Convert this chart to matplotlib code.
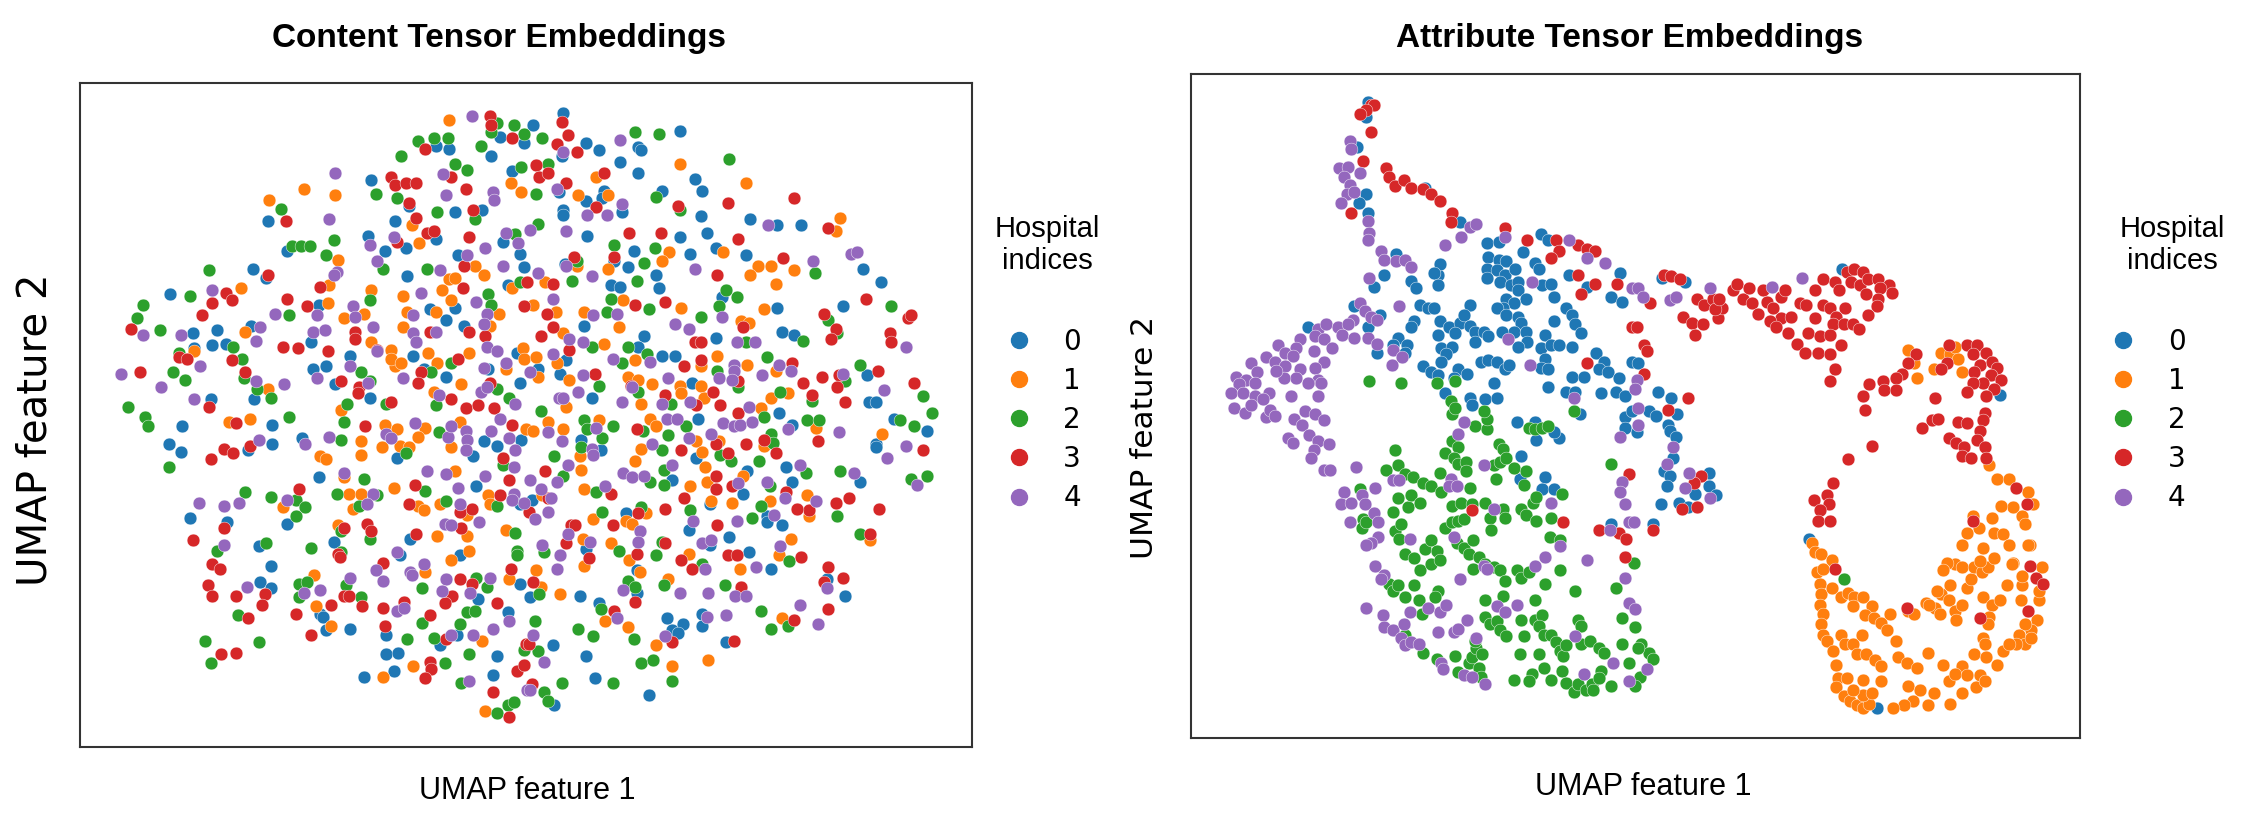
import numpy as np
import matplotlib
matplotlib.use("Agg")
from matplotlib import pyplot as plt
from matplotlib.lines import Line2D

# hospital colours (tab10)
colors = ['#1f77b4', '#ff7f0e', '#2ca02c', '#d62728', '#9467bd']
hospitals = ['0', '1', '2', '3', '4']

# ---- Content tensor embeddings: (UMAP1, UMAP2) per hospital ----
content_0 = [(28.0,40.7),(29.6,40.3),(23.7,40.1),(24.6,39.9),(27.4,39.4),(28.8,38.4),(19.4,37.8),(21.9,36.1),(25.0,35.7),(26.8,35.8),(12.5,35.1),(21.0,35.1),(23.7,33.9),(28.2,33.7),(19.2,34.1),(20.3,33.1),(21.7,33.3),(13.8,33.1),(25.2,32.8),(29.3,32.9),(29.6,32.0),(21.8,31.4),(28.5,30.8),(11.5,31.9),(12.4,31.3),(6.0,30.2),(15.9,29.5),(23.3,29.2),(24.4,28.5),(25.0,29.3),(25.6,28.1),(7.5,27.6),(9.1,27.8),(7.6,26.6),(8.8,26.8),(9.7,26.9),(11.4,28.1),(15.4,27.0),(15.5,25.2),(16.4,25.4),(18.0,26.1),(17.0,24.2),(19.3,23.3),(22.2,26.1),(22.9,25.2),(24.4,24.7),(27.2,25.2),(29.1,26.3),(29.3,24.3),(8.7,23.2),(11.6,23.2),
             (32.2,42.3),(30.2,41.5),(32.1,39.4),(33.7,40.3),(34.6,39.8),(40.0,41.1),(37.2,40.0),(37.4,39.8),(36.0,39.0),(37.2,38.3),(31.9,37.0),(33.7,36.4),(34.9,37.1),(34.8,36.6),(36.1,35.7),(32.2,35.8),(32.2,35.5),(38.8,37.1),(41.0,37.9),(41.5,37.1),(41.4,35.4),(44.7,35.2),(46.5,34.8),(48.1,34.8),(33.8,34.1),(40.0,34.0),(41.8,34.3),(35.6,32.4),(36.9,33.1),(40.7,32.9),(42.4,33.3),(44.4,32.8),(52.2,31.9),(53.4,31.0),(32.3,32.2),(36.5,32.0),(38.4,31.5),(35.4,30.8),(36.0,30.7),(38.6,30.6),(42.8,30.0),(50.9,29.4),(46.5,29.3),(33.6,28.1),(46.8,27.7),(47.6,27.5),(37.6,27.4),(37.2,26.7),(42.4,27.3),(32.4,25.8),(38.8,26.1),(39.7,26.1),(52.5,24.8),(52.6,23.0),(53.1,23.0),(30.5,25.2),(32.0,24.9),(34.1,23.3),(40.8,24.3),(46.6,22.3),
             (6.8,21.4),(12.8,21.5),(5.9,20.2),(6.7,19.7),(11.2,19.8),(12.8,20.2),(14.8,20.6),(21.1,19.3),(26.2,19.4),(26.9,20.4),(27.8,20.1),(29.4,20.5),(15.9,18.0),(26.4,17.4),(13.8,14.9),(29.3,16.2),(7.3,15.3),(9.8,15.0),(11.9,13.4),(12.7,12.1),(16.9,13.7),(22.0,13.9),(12.0,11.0),(12.7,10.6),(21.3,12.8),(25.3,12.8),(26.5,9.9),(29.3,10.9),(16.0,8.9),(16.2,8.7),(28.5,9.0),(16.4,7.8),(18.0,7.9),(20.4,7.5),(24.0,6.8),(25.1,7.5),(20.4,6.2),(21.2,6.3),(27.8,6.1),(18.9,4.7),(20.9,5.1),(27.5,4.8),
             (33.4,20.5),(34.7,19.8),(41.2,21.9),(41.1,19.3),(47.5,21.5),(54.3,21.9),(56.5,21.1),(53.1,20.2),(53.1,20.0),(47.1,18.7),(47.5,17.7),(52.0,17.7),(30.1,16.5),(39.5,17.8),(44.5,18.4),(44.2,16.9),(42.0,16.2),(45.8,15.4),(45.8,15.0),(46.8,14.8),(40.6,14.5),(43.3,14.0),(36.4,15.6),(33.7,13.2),(30.0,10.0),(33.3,10.1),(37.1,11.8),(42.0,13.5),(44.6,13.0),(46.1,11.9),(37.1,10.3),(49.8,11.2),(51.0,10.1),(34.6,9.6),(31.5,6.8),(33.7,6.1),(39.1,8.6),(39.5,7.8),(40.2,8.2),(39.9,7.6),(41.5,8.9),(41.5,8.1),(43.1,7.0),(34.3,4.6),(37.9,3.5),(31.6,2.8)]
content_1 = [(24.6,41.8),(28.7,37.6),(29.4,37.0),(14.9,37.2),(17.0,36.8),(12.6,36.5),(22.1,34.8),(22.6,33.6),(17.2,32.5),(26.3,32.1),(26.9,31.5),(24.6,31.2),(25.0,31.3),(28.8,30.6),(16.6,30.8),(10.7,30.6),(16.5,29.6),(19.4,30.5),(21.5,30.1),(24.1,30.5),(24.7,29.8),(17.6,28.6),(18.9,28.9),(21.8,29.0),(23.7,29.0),(27.9,28.9),(27.3,28.1),(29.5,26.6),(7.6,26.4),(11.0,27.7),(21.5,28.0),(19.4,27.0),(20.7,26.5),(12.5,23.9),(21.0,25.4),(20.7,25.9),(21.4,25.6),(23.2,26.3),(23.8,25.6),(25.9,26.3),(25.4,24.2),(28.4,25.2),(29.6,25.9),(23.6,23.7),(17.4,22.5),
             (40.0,38.9),(34.4,38.0),(33.2,36.8),(35.2,36.8),(44.4,37.6),(50.7,35.3),(50.4,34.4),(39.3,33.0),(38.8,32.4),(42.9,33.0),(33.1,32.1),(35.2,31.9),(45.2,32.1),(46.1,32.1),(44.7,31.5),(47.6,31.8),(46.4,30.9),(31.0,31.0),(36.2,29.8),(30.2,29.5),(31.7,29.0),(33.6,29.0),(40.1,29.3),(45.6,29.2),(35.9,28.0),(44.1,28.4),(44.6,28.3),(32.2,27.6),(34.9,26.9),(31.8,25.6),(30.4,26.0),(37.0,25.8),(42.5,26.1),(41.4,25.4),(44.5,25.5),(46.4,25.1),(47.2,23.6),(46.1,23.3),(30.5,24.7),(32.6,24.5),(32.4,22.7),(36.5,24.7),(37.2,24.5),(38.1,24.2),(41.4,24.1),(40.0,24.1),(40.1,23.6),(41.6,23.3),(37.4,22.9),(45.4,22.6),
             (9.9,21.7),(11.3,21.9),(18.7,20.4),(18.7,19.5),(16.0,19.4),(16.4,19.2),(20.3,21.5),(21.1,21.2),(20.1,20.0),(21.3,20.1),(21.9,20.0),(23.0,21.3),(22.5,20.7),(24.7,20.0),(25.3,21.7),(29.7,21.2),(17.6,18.0),(25.0,18.4),(20.9,17.3),(13.5,16.0),(17.9,16.9),(18.7,16.9),(18.2,15.9),(22.5,16.1),(22.9,15.8),(24.0,16.2),(25.8,15.5),(27.2,16.8),(27.3,16.2),(17.2,14.8),(23.8,14.1),(25.8,14.1),(28.4,14.5),(15.6,11.5),(23.0,11.7),(24.7,12.5),(25.9,13.1),(28.6,11.2),(15.7,9.4),(16.7,8.1),(26.8,7.1),(22.2,5.4),(20.2,4.7),(27.0,2.4),
             (30.2,21.1),(31.2,21.7),(32.2,21.2),(34.6,21.8),(33.3,19.4),(38.0,21.9),(38.4,21.4),(37.4,19.9),(41.1,20.4),(41.5,19.7),(42.6,20.4),(45.6,20.1),(49.1,21.3),(53.5,20.9),(33.4,18.5),(30.8,16.8),(33.6,17.2),(37.0,19.1),(40.7,17.4),(41.7,18.7),(41.8,17.7),(44.2,18.1),(46.0,16.4),(48.5,16.8),(48.6,15.4),(42.1,16.4),(43.5,16.3),(34.2,15.2),(37.7,15.6),(36.4,15.1),(36.8,14.9),(33.5,13.9),(33.6,12.1),(35.4,13.6),(30.4,11.8),(30.7,10.7),(32.0,10.2),(36.6,12.5),(37.3,11.7),(40.6,12.9),(44.0,11.9),(46.6,12.8),(47.4,13.9),(52.7,13.8),(39.2,11.2),(35.0,8.4),(36.5,8.0),(38.4,6.8),(46.8,8.6),(39.5,5.4),(41.9,5.8)]
content_2 = [(27.8,41.6),(28.9,41.5),(27.4,41.0),(29.6,40.9),(22.5,40.4),(23.6,40.6),(24.5,40.6),(26.7,40.1),(21.4,39.4),(25.0,38.9),(25.8,38.5),(29.4,38.7),(19.7,36.9),(21.1,36.6),(13.4,35.9),(23.8,35.7),(26.3,35.2),(29.0,34.2),(16.9,33.8),(14.1,33.4),(14.7,33.4),(15.3,33.4),(16.4,32.8),(20.2,31.9),(23.1,31.9),(29.3,31.0),(8.6,31.8),(7.3,30.1),(4.2,29.5),(3.8,28.6),(13.9,28.8),(19.3,29.8),(27.2,30.2),(27.4,29.5),(5.3,27.8),(10.2,26.7),(6.6,26.3),(10.8,25.9),(6.2,25.0),(7.0,24.5),(10.9,24.6),(11.8,23.9),(12.7,23.3),(18.7,25.0),(19.3,24.4),(23.4,25.0),(24.7,25.6),(27.8,23.9),(28.6,23.3),(20.4,22.9),(3.2,22.7),(17.8,22.9),(23.7,22.8),
             (30.8,40.6),(37.0,41.0),(38.6,40.9),(31.2,38.9),(43.3,39.2),(30.4,36.9),(38.4,36.7),(40.0,35.8),(30.5,34.9),(35.6,33.5),(38.3,33.3),(49.0,31.6),(33.1,32.4),(37.6,32.3),(32.8,31.1),(37.1,31.1),(43.1,30.5),(43.8,30.0),(42.6,29.4),(35.4,29.9),(54.1,29.4),(35.1,29.0),(37.9,29.2),(41.4,28.7),(49.9,28.5),(50.5,27.6),(48.2,27.1),(34.1,26.7),(36.5,26.7),(44.4,27.0),(36.1,25.6),(37.8,26.2),(42.5,25.1),(45.8,26.0),(52.0,25.5),(51.0,24.4),(56.2,23.4),(48.8,23.1),(46.7,23.7),(56.8,22.3),(34.6,24.1),(30.7,22.4),(37.2,23.7),(43.9,24.0),(39.4,22.9),
             (4.3,22.0),(4.5,21.4),(13.9,22.0),(5.9,18.7),(17.4,20.5),(17.6,21.7),(21.7,19.6),(23.9,21.0),(28.2,18.8),(18.9,17.9),(23.0,17.1),(11.0,17.0),(12.7,16.7),(14.4,16.5),(15.0,16.0),(14.4,15.4),(17.1,16.9),(19.8,16.8),(18.6,16.1),(24.4,16.4),(27.8,16.1),(9.1,13.1),(12.4,13.6),(15.4,13.3),(17.4,14.4),(19.3,13.9),(17.4,13.0),(29.0,14.3),(29.1,13.1),(29.1,12.8),(14.6,10.9),(15.1,11.0),(14.6,10.0),(17.7,10.8),(18.7,10.0),(22.8,10.6),(26.4,11.3),(27.1,10.7),(25.8,9.0),(26.3,9.1),(10.5,8.8),(22.8,8.3),(25.3,8.2),(21.8,7.2),(23.6,7.3),(29.6,6.5),(8.3,7.1),(11.9,7.0),(8.7,5.6),(25.9,6.2),(24.3,5.6),(25.4,4.3),(27.8,2.3),(28.5,2.8),(28.9,3.0),
             (33.6,21.8),(33.8,21.2),(35.5,21.4),(33.4,20.0),(34.8,20.6),(31.6,19.4),(37.5,21.1),(39.2,20.8),(38.8,19.8),(40.4,21.4),(42.7,19.5),(43.4,19.1),(46.1,20.9),(46.2,20.3),(45.6,22.0),(48.5,21.8),(49.3,21.8),(54.7,21.8),(55.6,21.4),(55.4,17.9),(56.5,18.1),(45.3,19.1),(48.4,18.3),(50.7,18.4),(32.2,18.1),(34.4,17.0),(38.0,17.7),(38.9,17.5),(38.9,18.5),(46.0,17.4),(50.5,15.4),(45.4,16.1),(44.8,15.3),(40.7,15.8),(34.8,15.7),(37.4,16.0),(35.9,13.1),(30.9,13.0),(30.6,10.2),(38.4,12.8),(38.8,13.7),(41.5,12.2),(47.3,12.4),(52.0,14.2),(38.9,10.8),(36.5,11.1),(37.0,10.7),(43.0,10.8),(34.7,9.2),(30.3,8.4),(30.5,6.4),(33.2,7.9),(34.2,7.4),(36.9,7.2),(45.4,9.1),(47.2,8.1),(46.1,7.9),(37.4,5.6),(38.2,5.8),(39.5,4.4),(35.5,4.3),(32.1,4.3),(30.9,3.7),(31.2,3.1)]
content_3 = [(27.3,42.1),(27.4,41.5),(28.8,40.6),(23.0,39.9),(24.7,38.0),(20.7,38.0),(21.0,37.5),(21.7,37.6),(22.4,37.6),(25.7,37.2),(13.7,35.1),(21.9,36.3),(26.2,35.8),(22.4,35.3),(23.1,34.3),(23.6,34.4),(25.9,34.0),(21.1,33.7),(25.6,32.1),(25.5,30.6),(29.8,31.0),(12.5,31.5),(16.0,30.7),(9.7,30.3),(10.1,29.8),(8.8,29.6),(8.1,28.8),(13.8,29.9),(15.1,29.4),(29.6,29.4),(25.9,27.7),(27.0,27.4),(3.4,27.9),(18.3,27.7),(18.3,27.2),(23.3,27.7),(19.8,26.5),(13.5,26.7),(14.5,26.6),(16.5,26.4),(6.6,26.0),(7.1,25.9),(10.1,25.8),(4.0,25.0),(11.0,25.0),(17.4,24.4),(18.6,24.0),(18.5,23.6),(22.7,25.0),(22.5,24.3),(25.2,25.9),(27.3,24.3),(24.7,23.2),(20.7,23.0),(8.6,22.7),(25.7,22.6),(26.5,22.8),(27.6,22.6),
             (32.1,41.7),(32.5,40.8),(31.8,40.2),(33.1,39.7),(30.4,38.8),(30.6,38.0),(31.2,38.3),(34.9,38.3),(32.4,37.6),(34.4,36.0),(47.6,36.6),(39.9,36.1),(43.2,36.3),(49.9,34.6),(36.6,34.3),(38.7,34.3),(43.9,33.9),(35.6,32.7),(46.9,32.6),(32.9,32.7),(42.5,31.5),(31.5,30.9),(37.0,29.5),(39.0,29.7),(52.4,29.9),(55.2,28.6),(55.4,28.8),(31.1,28.9),(49.6,28.9),(31.5,28.0),(44.2,28.0),(50.4,27.9),(50.1,27.2),(54.0,27.6),(54.1,27.0),(30.7,27.4),(41.0,27.0),(41.4,27.0),(32.6,26.5),(41.4,25.8),(40.3,25.4),(47.5,25.6),(53.2,25.1),(49.5,24.7),(50.6,24.8),(55.6,24.3),(50.5,24.0),(48.2,24.3),(48.8,23.5),(51.0,23.0),(34.3,24.9),(36.7,24.1),(39.0,23.5),(42.2,23.7),(43.9,24.4),(41.1,22.8),(42.7,22.8),(43.9,22.3),
             (10.4,21.6),(19.0,21.4),(8.7,19.2),(9.6,19.9),(10.2,19.6),(11.3,20.1),(28.8,21.5),(28.2,19.3),(28.6,17.8),(22.3,17.5),(14.6,17.2),(21.9,16.2),(25.3,15.7),(26.1,15.9),(28.0,16.8),(7.5,13.8),(9.6,14.6),(17.6,14.6),(19.1,14.9),(19.4,14.4),(17.2,12.9),(17.3,12.7),(22.4,14.2),(25.4,14.6),(8.8,12.2),(9.3,11.9),(8.5,10.8),(8.8,10.1),(10.4,10.1),(12.3,10.2),(12.1,9.5),(17.6,10.1),(17.9,10.1),(18.8,9.4),(20.2,12.3),(25.3,11.2),(26.1,10.9),(24.8,10.1),(28.7,11.9),(24.3,9.6),(27.8,9.6),(16.7,9.5),(14.4,8.9),(11.2,8.6),(20.2,9.3),(21.6,9.7),(23.3,8.8),(20.3,8.1),(15.4,7.5),(24.4,7.2),(29.7,6.9),(9.4,6.2),(10.4,6.3),(23.3,5.7),(23.4,5.2),(23.0,4.6),(29.1,5.1),(29.6,5.5),(27.5,3.7),(28.6,2.0),
             (37.1,21.2),(40.1,19.8),(42.4,20.2),(43.2,19.6),(44.4,20.2),(45.6,20.5),(46.4,19.6),(49.2,20.4),(56.2,19.8),(31.0,18.4),(35.4,16.9),(42.4,18.1),(42.4,17.2),(43.5,17.4),(47.1,17.0),(48.6,15.8),(47.8,15.9),(50.4,16.3),(51.3,16.6),(53.3,15.9),(40.3,16.6),(39.0,15.9),(42.5,14.8),(31.2,16.6),(29.9,15.7),(35.5,14.8),(37.2,15.6),(32.7,14.8),(33.0,14.8),(32.4,13.6),(33.9,12.6),(30.2,11.0),(37.1,12.9),(39.0,13.6),(40.1,12.5),(40.8,11.9),(43.2,12.8),(43.8,12.8),(48.1,12.7),(52.7,14.2),(37.0,9.7),(44.1,10.7),(49.9,12.0),(49.6,11.0),(50.9,11.3),(49.9,9.2),(35.6,9.1),(29.9,6.9),(39.5,7.0),(43.6,7.1),(47.6,8.5),(30.1,4.2)]
content_4 = [(26.1,42.1),(24.2,38.2),(17.0,38.3),(24.4,36.8),(27.5,37.0),(27.6,36.5),(16.6,35.2),(28.4,34.3),(29.2,33.6),(19.3,33.5),(20.9,34.0),(17.1,31.7),(16.9,31.5),(19.8,32.4),(27.0,33.3),(25.8,32.8),(28.2,32.1),(24.0,31.8),(8.8,30.5),(13.0,28.9),(15.8,28.8),(22.7,30.3),(18.2,29.4),(18.3,28.7),(22.2,28.8),(26.4,29.7),(27.1,28.9),(26.9,28.2),(27.1,26.7),(27.8,26.4),(4.2,27.5),(6.7,27.5),(12.0,28.0),(11.7,27.1),(15.5,27.7),(16.3,27.8),(19.5,28.0),(22.2,27.6),(22.4,27.0),(23.7,27.7),(19.8,26.4),(8.0,25.4),(2.7,24.9),(5.4,24.0),(11.7,24.4),(13.6,24.2),(15.8,24.6),(18.0,25.4),(19.2,24.3),(21.5,24.6),(26.9,25.3),(28.4,25.6),(26.7,23.7),(27.1,24.0),(23.9,23.5),(7.6,23.2),(29.0,22.9),
             (32.2,39.7),(36.0,40.5),(31.8,37.2),(36.1,36.2),(33.8,35.5),(35.1,35.5),(45.9,34.8),(30.0,34.5),(32.4,34.4),(48.9,32.4),(51.4,32.9),(51.8,33.0),(32.4,32.1),(41.0,31.9),(30.5,31.6),(34.1,31.4),(31.5,29.9),(34.2,28.8),(35.8,28.9),(42.8,28.7),(39.7,28.2),(40.6,27.9),(55.1,26.7),(32.6,27.2),(33.5,27.0),(43.8,27.0),(45.0,27.0),(31.5,26.2),(35.5,25.9),(38.0,25.7),(43.6,25.5),(43.6,25.1),(46.6,25.5),(47.4,25.1),(50.9,24.9),(45.5,24.8),(53.6,23.8),(30.0,25.0),(33.5,24.8),(33.2,23.7),(31.9,23.3),(32.2,23.3),(36.8,24.0),(39.2,24.6),(42.6,24.6),(43.5,24.5),(36.1,23.0),(38.8,22.9),(40.7,23.0),(44.6,22.7),
             (11.9,20.5),(15.0,20.2),(16.6,20.7),(20.4,20.9),(20.7,20.6),(22.3,21.6),(24.5,20.7),(24.7,21.4),(25.7,21.1),(25.8,20.5),(25.7,19.8),(27.4,21.1),(28.0,21.9),(28.6,20.6),(29.0,19.8),(28.9,18.7),(17.6,18.3),(23.1,18.4),(24.4,18.2),(27.0,18.1),(25.2,17.3),(7.9,16.3),(9.6,16.1),(10.6,16.3),(13.8,16.5),(19.5,16.9),(19.1,16.2),(25.3,16.2),(28.9,16.9),(28.8,16.5),(29.6,16.3),(9.6,13.5),(24.3,14.9),(24.7,14.8),(26.6,15.0),(11.1,10.7),(14.9,10.3),(16.0,10.5),(18.0,11.3),(19.7,11.8),(20.2,11.1),(21.1,13.0),(22.0,11.7),(22.1,11.5),(22.9,12.2),(24.4,11.2),(27.3,11.3),(24.1,10.4),(26.0,10.3),(21.1,9.1),(21.6,9.3),(28.6,8.4),(27.5,7.9),(24.7,7.5),(26.2,7.5),(25.9,4.4),(29.8,3.8),
             (31.2,21.0),(32.1,20.4),(34.4,21.3),(34.1,19.9),(34.2,19.5),(39.1,21.9),(39.8,21.9),(38.1,20.2),(40.6,20.6),(42.1,20.9),(42.9,21.6),(43.6,21.4),(44.0,21.5),(44.8,21.7),(47.2,21.2),(50.6,21.0),(55.1,20.1),(53.8,19.3),(55.8,17.5),(48.0,18.8),(51.6,18.3),(32.5,18.8),(31.8,17.7),(30.0,17.8),(30.7,17.2),(31.4,16.6),(35.0,17.4),(36.2,18.3),(36.8,18.0),(37.6,18.1),(39.5,18.8),(43.9,17.6),(45.8,17.7),(47.0,16.6),(49.1,16.4),(46.3,15.5),(40.9,15.1),(43.8,15.1),(31.2,15.7),(30.3,15.2),(37.3,14.4),(37.2,13.7),(32.5,14.2),(34.0,13.7),(30.8,13.5),(32.0,12.8),(31.8,11.9),(41.7,11.9),(41.5,13.6),(42.1,13.8),(45.1,12.0),(46.7,13.4),(36.2,10.5),(40.0,10.3),(41.9,10.3),(43.7,10.1),(44.4,10.1),(49.8,10.6),(48.0,9.5),(49.2,8.2),(35.8,8.6),(30.2,7.5),(30.9,5.7),(39.0,7.4),(41.8,8.7),(43.1,8.8),(30.0,3.8)]

# ---- Attribute tensor embeddings: (UMAP1, UMAP2) per hospital ----
attr_0 = [(11.8,42.4),(11.7,41.4),(11.1,39.4),(11.7,36.3),(11.2,35.7),(11.8,35.0),(15.6,36.7),(17.9,34.4),(19.7,33.0),(20.5,33.1),(23.3,33.6),(23.8,33.2),(22.1,32.4),(22.9,31.7),(23.2,31.3),(25.2,30.9),(26.4,30.1),(28.6,31.0),(28.0,29.4),(28.7,29.1),
          (19.8,32.1),(20.5,31.9),(21.0,31.8),(19.7,31.3),(20.4,31.2),(20.9,30.9),(21.6,31.3),(19.7,30.7),(20.6,30.4),(21.3,30.2),(21.8,30.4),(21.8,29.9),(22.3,29.3),(23.4,30.2),(24.0,30.3),(24.2,29.4),(21.0,29.3),(21.5,29.0),(20.8,28.7),(20.4,28.7),(21.0,28.2),(21.8,28.1),(22.0,27.7),(21.5,27.1),(20.7,27.1),(22.3,27.1),(22.4,26.4),(21.8,26.1),
          (18.6,28.9),(16.5,30.9),(16.6,31.6),(16.2,31.0),(16.5,30.2),(13.7,32.3),(12.9,30.9),(12.2,30.1),(14.7,30.5),(15.0,30.0),(15.3,28.9),(15.8,28.7),(16.2,28.7),(10.9,28.8),(12.6,28.2),(11.8,27.4),(14.9,27.8),(14.7,27.4),
          (16.6,27.8),(17.2,27.4),(17.9,27.7),(18.2,28.2),(18.6,27.5),(18.9,27.1),(19.5,27.1),(19.8,26.8),(17.6,27.0),(16.5,26.9),(18.9,26.4),
          (13.8,26.7),(14.4,26.2),(13.5,26.2),(14.3,25.7),(12.4,25.7),(16.7,26.0),(17.4,26.1),(17.0,25.6),(16.7,25.1),(19.3,25.1),(19.8,25.2),(20.4,25.1),(20.9,24.6),(21.2,24.9),(15.5,24.8),(16.0,24.4),(16.5,24.2),(17.8,24.6),(18.4,24.3),(17.5,24.0),(16.9,23.0),(20.2,23.7),(23.8,23.4),
          (23.3,26.0),(23.6,26.9),(23.6,25.3),(23.3,24.7),(23.8,24.6),(24.0,26.2),(24.5,26.2),(24.2,27.8),(25.0,28.7),(25.4,28.2),(25.6,27.6),(26.0,27.0),(25.4,26.1),(27.0,25.7),(27.5,25.1),(27.2,24.6),(27.8,24.4),(25.4,24.1),(26.2,24.1),(28.5,24.0),(29.4,25.1),(25.0,23.1),(25.6,23.1),(27.3,23.0),(28.3,23.1),(28.9,22.8),(18.6,22.7),(19.6,22.6),(20.4,22.7),(7.8,27.4),
          (31.4,30.7),(32.9,30.4),(43.4,31.3),(29.8,25.0),(31.1,23.1),(32.0,22.7),(53.9,22.9),
          (21.7,21.1),(22.0,18.8),(21.9,17.3),(23.6,17.4),(23.4,16.6),(24.2,16.6),(22.9,21.1),(23.0,19.9),(24.5,20.0),(24.2,20.4),(25.9,21.6),(18.7,22.2),(28.0,14.3),(28.9,21.4),(28.9,20.7),(29.4,21.8),
          (30.5,21.8),(31.0,21.5),(32.4,21.6),(31.8,20.9),(31.9,20.5),(32.3,20.1),(29.7,20.4),(32.1,18.7),(31.5,17.8),(31.9,17.5),(31.7,16.8),(34.5,17.7),(34.5,16.8),(33.6,16.3),(35.0,16.2),(32.5,15.7),(33.1,15.4),(31.3,15.6),(30.8,14.3),(41.2,13.3),(45.7,2.0)]
attr_1 = [(47.8,25.9),(48.2,25.0),(48.4,24.0),(50.0,25.7),(50.6,25.6),(50.9,26.1),(49.5,24.6),(51.4,24.4),(51.1,25.3),
          (53.2,18.2),(53.7,17.3),(54.5,17.3),(55.8,16.4),(56.1,15.6),(54.8,15.4),(54.0,15.5),(53.4,14.7),(52.1,14.8),(52.5,14.0),(51.7,13.7),(51.4,12.9),(52.8,12.7),(53.5,13.7),(54.1,13.6),(54.5,12.9),(55.4,14.8),(55.6,14.3),(55.9,12.9),
          (41.4,13.0),(41.6,12.4),(42.0,12.3),(42.7,11.9),(41.7,11.1),(42.1,11.3),(41.9,10.3),(42.0,9.6),(41.9,8.9),(42.1,8.3),(42.0,7.6),(42.1,6.9),(42.4,6.5),(42.8,5.8),(43.0,4.9),(43.1,4.0),(43.0,3.4),(43.5,2.8),(43.9,2.5),(44.4,2.2),(44.8,2.0),(45.2,2.3),(44.8,2.9),(44.1,3.2),(45.4,3.0),(43.7,4.0),(44.8,3.9),(46.0,3.8),
          (42.7,10.0),(43.3,9.4),(43.8,9.7),(44.2,9.4),(44.8,9.4),(44.1,8.8),(45.4,8.8),(44.9,8.2),(45.5,8.0),(46.0,7.7),(46.6,8.3),(46.4,7.2),(43.3,6.9),(43.6,6.3),(44.1,6.3),(44.7,6.9),(44.4,5.6),(45.0,5.6),(45.6,5.2),(46.0,4.8),(47.0,6.5),(47.1,5.4),(47.7,5.0),(48.4,4.7),(49.1,5.7),(47.8,3.5),(48.6,3.2),(49.5,3.0),(50.1,4.9),(50.5,3.8),(51.4,4.8),(50.9,4.3),(51.7,4.2),(52.6,4.2),(52.3,3.4),(52.9,3.8),(51.4,3.0),(50.6,2.3),(49.1,2.2),(48.1,2.5),(47.5,2.2),(46.8,2.0),(47.8,8.5),(48.2,8.3),
          (49.0,9.0),(49.6,8.7),(50.0,9.6),(50.5,9.2),(50.9,8.5),(51.0,7.9),(51.4,8.9),(50.6,10.2),(50.9,11.6),(51.4,11.4),(51.7,10.0),(52.0,10.6),(52.2,11.4),(52.7,11.1),(53.1,11.4),(52.8,9.4),(53.4,8.9),(53.9,9.2),(53.2,8.1),(53.1,7.6),(54.4,10.2),(54.8,11.7),(55.4,10.2),(55.3,9.2),(56.5,9.2),(56.4,7.9),(56.0,7.2),(55.6,7.6),(55.2,6.9),(55.6,6.3),(55.0,6.3),(56.0,6.7),(52.8,6.7),(52.9,6.3),(52.2,5.6),(53.0,5.4),(53.7,4.9),(54.1,5.8),(54.5,6.3),(56.7,11.4),(56.5,9.8),(55.4,10.8),(54.7,11.6),(55.8,12.9),
          (50.4,11.7),(50.1,11.2),(49.7,9.8),(49.2,8.9),(49.9,8.3),(53.5,12.0),(52.6,11.8)]
attr_2 = [(11.9,23.8),(14.0,23.7),(16.4,23.7),(17.6,23.8),(17.3,22.5),
          (11.3,16.6),(11.5,14.6),(11.4,14.0),(11.7,14.4),
          (13.6,19.2),(13.0,17.9),(13.8,18.2),(14.3,17.6),(14.8,17.4),(15.5,17.0),(16.0,16.8),(16.6,17.7),(16.7,16.4),(16.9,19.0),(17.4,19.8),(17.8,19.4),(17.5,18.7),(17.8,18.3),(18.3,18.4),(18.3,17.8),(17.4,21.6),(17.6,22.0),(18.9,20.8),(19.7,20.6),(19.7,21.3),(19.5,21.8),
          (13.8,16.0),(14.5,15.4),(14.7,16.2),(15.3,15.7),(13.5,15.1),(13.6,13.8),(14.0,14.3),(13.9,13.3),(14.3,12.3),(14.9,12.0),(15.3,11.2),(15.6,12.6),(16.0,13.2),(16.4,12.5),(16.0,11.6),(16.6,11.9),(16.9,14.0),(17.4,14.4),(17.8,14.5),(18.2,14.6),(17.4,15.5),(18.0,15.7),(18.6,16.7),(18.7,15.6),(17.7,13.0),(18.2,12.7),(18.5,12.3),(18.8,13.2),(18.8,11.3),(19.2,12.1),(19.6,11.6),(20.2,11.4),(20.6,11.2),(20.9,10.5),
          (19.6,15.7),(19.9,14.7),(20.0,13.9),(20.8,15.3),(20.9,14.7),(20.5,19.6),(20.8,19.3),(20.2,18.2),(20.6,18.4),(21.0,18.7),(21.5,18.0),(20.3,17.3),(22.3,17.8),(22.2,16.9),(22.0,15.3),(22.3,14.9),(22.8,15.7),(23.0,16.1),(23.0,14.5),(24.0,14.7),(23.9,13.4),(24.6,13.2),(24.7,16.3),
          (22.5,20.7),(22.9,20.6),(23.4,20.7),(23.8,20.8),(25.5,21.8),
          (21.7,11.2),(22.0,10.7),(22.5,11.1),(23.6,10.3),(24.6,11.2),(25.6,9.8),(20.8,9.5),(19.6,9.2),(22.9,9.2),
          (13.2,10.3),(13.5,9.8),(13.8,10.2),(14.3,9.4),(14.9,10.2),(15.2,9.2),(15.4,8.3),(16.5,9.8),(16.3,9.4),(14.3,6.9),
          (15.5,5.7),(16.4,5.3),(17.6,5.5),(17.8,4.4),(18.5,5.0),(18.7,5.4),(19.0,6.0),(19.4,5.6),(19.2,4.7),(19.3,4.1),(18.9,6.5),
          (19.6,8.1),(19.9,7.6),(20.4,7.8),(20.6,7.2),(21.0,6.8),(22.0,7.9),(22.2,6.8),(21.9,5.6),(22.9,7.9),(23.4,8.2),(23.2,7.5),(23.5,6.9),(24.0,6.9),(24.3,6.4),(24.6,5.8),(24.8,5.5),(25.0,6.2),(25.8,7.9),(26.0,7.5),(26.0,6.3),(26.6,6.5),(27.2,6.0),(27.5,5.7),(23.2,5.6),(23.5,4.7),(22.7,4.3),(22.5,3.8),(21.5,3.9),(24.0,3.9),(24.7,4.5),(25.0,3.7),(25.5,3.1),(25.8,3.6),(26.3,3.2),(26.7,3.6),(27.3,4.5),(27.2,4.0),(28.0,3.5),(26.8,3.2),(28.3,10.0),(28.0,18.3),
          (28.7,8.0),(28.7,6.3),(29.2,5.0),
          (29.5,11.7),(29.6,7.4),(30.0,6.3),(30.5,5.7),(30.8,5.3),(29.9,4.1),(29.6,3.5),(29.8,6.0),(43.5,10.6)]
attr_3 = [(12.0,42.2),(12.2,42.2),(11.7,41.9),(11.3,41.6),(12.0,40.4),(11.5,38.5),(10.7,35.0),
          (13.0,38.0),(13.2,37.4),(13.6,36.8),(14.2,37.2),(14.7,36.7),(15.5,36.6),(16.0,36.3),(16.6,35.8),(17.4,35.0),(17.3,34.4),
          (20.9,34.0),(22.4,33.2),(24.3,33.2),(24.5,32.5),(24.0,32.0),(25.8,32.9),(26.4,32.6),(26.9,32.5),(25.8,30.9),(26.9,30.3),(26.0,29.6),(28.4,30.3),(29.4,27.4),(26.4,25.0),
          (31.5,30.9),(32.0,30.8),(32.6,30.6),(30.6,29.0),(29.7,27.4),(30.2,26.2),(30.4,25.8),(30.2,24.3),(33.1,22.7),
          (32.8,28.1),(33.4,27.7),(33.6,26.9),(34.1,27.6),(33.7,29.3),(34.2,28.9),(34.8,29.3),(35.1,28.0),(35.4,28.7),(34.9,28.6),(35.2,29.3),(36.1,29.9),(36.4,30.3),(36.8,29.3),(37.2,30.0),(37.4,29.0),(37.8,28.3),(38.1,29.9),(38.4,29.1),(38.8,28.7),(39.3,29.4),(39.6,29.9),(39.3,28.0),(38.6,27.8),(39.0,27.4),(39.8,27.0),(40.0,28.1),(40.4,26.3),(40.9,25.7),(40.6,29.0),(41.0,28.9),(41.6,29.9),(42.1,30.6),(41.6,28.0),(41.1,27.0),(41.9,26.8),(41.8,25.7),(42.1,28.9),(42.6,28.7),(42.9,30.4),(43.2,29.9),(43.7,31.1),(44.2,31.3),(44.8,31.1),(44.0,30.4),(44.6,30.2),(45.1,30.6),(45.8,30.6),(46.5,30.2),(46.7,29.7),(45.9,30.0),(45.0,29.6),(45.8,29.3),(45.7,28.8),(45.1,28.2),(43.6,28.7),(43.0,28.1),(42.8,27.6),(43.5,27.6),(44.1,27.6),(44.5,27.3),(42.6,26.9),(43.3,26.2),(42.6,25.6),(42.9,24.6),(42.6,23.8),
          (48.3,25.6),(47.8,25.0),(47.4,24.3),(47.0,24.0),(46.1,23.8),(46.2,23.2),(47.0,23.2),(45.2,23.6),(44.8,22.8),(49.6,22.7),
          (50.5,26.2),(50.4,25.0),(50.0,24.6),(51.7,26.2),(52.4,26.2),(52.1,25.6),(53.0,25.7),(52.6,24.9),(53.4,25.1),(53.7,24.7),(52.2,24.4),(53.3,24.2),(54.0,23.9),(52.8,23.7),(52.1,23.7),(53.5,23.3),(51.7,23.1),(53.0,22.8),
          (18.7,15.2),(24.8,14.4),(27.2,13.9),(28.5,13.7),(29.0,13.3),(28.9,12.1),(29.2,17.6),
          (31.8,21.9),(34.0,17.5),(33.5,17.0),(32.7,15.3),(33.7,15.4),(30.8,13.9),
          (44.9,21.9),(45.4,19.5),(43.8,18.6),(42.8,17.0),(41.5,15.9),(42.4,16.2),(42.5,15.6),(41.9,15.2),(41.8,14.5),(42.6,14.5),
          (48.7,20.7),(49.4,21.2),(49.8,21.3),(51.1,21.1),(51.7,21.0),(52.9,21.7),(52.8,21.2),(52.6,20.5),(52.4,19.9),(50.5,20.0),(51.0,19.7),(51.5,19.4),(51.4,18.8),(52.0,18.7),(52.9,19.4),(53.0,18.7),
          (55.0,16.7),(55.7,15.6),(52.1,14.5),(55.9,11.5),(56.3,10.7),(56.8,10.3),(55.8,8.5),(52.6,8.0),(47.7,8.7),(42.9,11.3)]
attr_4 = [(10.6,39.8),(10.7,39.3),(9.9,38.0),(10.5,38.1),(10.2,37.4),(11.3,37.7),(10.6,36.9),(10.4,36.3),(10.9,36.4),(10.0,35.7),(11.8,34.5),(11.9,33.7),(11.8,33.2),
          (18.6,34.1),(19.0,34.3),(18.0,33.4),(16.9,32.9),(20.9,33.4),(25.2,33.2),(26.4,32.0),(27.6,31.7),(22.7,30.4),(29.4,30.0),(21.1,26.6),(22.6,24.9),
          (12.7,32.5),(12.9,31.9),(13.7,31.8),(14.3,31.9),(14.7,31.4),(11.9,30.7),(13.9,28.8),
          (11.3,29.0),(11.6,28.5),(12.0,28.1),(12.4,27.9),(10.8,27.9),(13.5,25.9),(14.1,25.4),(13.4,24.9),
          (8.5,27.3),(9.0,27.6),(9.8,27.4),(10.5,27.6),(10.1,26.9),(10.9,26.7),(11.8,26.7),(12.4,26.3),(8.3,26.8),(8.9,26.6),(9.4,26.0),(7.3,26.6),(7.0,26.0),(8.2,25.8),(8.9,25.1),(8.3,24.7),(8.5,23.9),(8.7,23.7),(7.8,23.7),(8.5,22.8),(5.8,26.2),(6.3,25.7),(6.8,25.5),(5.0,25.4),(5.6,25.1),(6.3,24.8),(7.3,24.6),(7.0,24.0),(6.2,24.0),(5.7,24.5),(4.0,25.0),(4.4,24.4),(3.0,24.1),(3.7,23.9),(4.3,23.7),(3.2,23.6),(2.7,23.0),(3.5,23.0),(4.3,22.8),(5.2,23.0),(6.7,22.8),(4.8,22.6),(25.5,22.7),
          (29.8,30.0),(30.1,29.4),(31.9,29.2),(32.3,29.4),(34.6,30.0),(38.7,30.1),(40.7,30.7),(29.7,23.9),(29.6,23.3),
          (2.9,22.0),(3.6,21.7),(4.0,22.2),(5.0,21.4),(5.3,21.9),(5.6,21.5),(6.9,21.3),(7.4,20.9),(7.6,21.8),(8.3,21.6),(8.9,21.2),(6.5,20.0),(6.8,19.7),(7.9,20.2),(8.5,19.8),(9.2,19.6),(8.2,19.2),(8.0,18.7),(8.9,17.9),(9.3,17.9),(11.0,18.1),
          (10.2,16.4),(10.0,15.6),(10.7,15.7),(11.4,16.2),(11.6,15.6),(12.3,16.7),(12.2,15.0),(12.5,14.4),(10.6,14.4),(12.5,13.4),(12.0,13.0),(11.7,12.9),(12.3,11.5),(12.9,10.9),(12.7,10.6),(11.7,8.7),(12.8,8.2),(12.9,7.4),(13.5,7.2),(14.2,7.6),(14.0,6.7),(14.3,6.2),(14.7,6.4),(15.2,6.3),(16.7,5.0),(16.8,4.6),
          (13.5,17.2),(13.9,17.2),(17.3,17.3),(17.2,16.8),(17.7,16.8),(17.8,20.3),(18.2,21.1),(19.5,18.2),
          (14.6,13.3),(17.5,13.4),(19.5,11.5),(19.7,11.3),(17.9,10.6),(20.2,15.3),(24.0,15.7),(24.6,12.8),(23.6,12.1),(22.9,11.5),(26.4,11.9),
          (20.4,8.8),(20.9,8.4),(21.7,8.9),(15.8,8.7),(16.6,8.4),(17.0,8.9),(14.6,8.4),(16.5,7.1),(17.5,7.1),(17.8,7.3),(18.4,7.9),(19.0,6.7),(25.6,6.8),(28.1,5.0),(26.2,4.3),(18.2,4.2),(18.7,4.1),(19.6,3.6),
          (28.7,17.1),(28.6,16.4),(28.9,15.6),(29.2,14.4),(27.9,13.9),(28.9,10.7),(29.2,9.0),(29.2,3.8),(28.6,20.1),
          (29.8,22.0),(29.8,20.9),(32.1,19.4),(31.7,18.3),(33.2,17.7),(32.9,16.7),(34.6,16.0),(29.5,14.4),(29.6,8.6),(30.4,4.6)]

content_groups = [content_0, content_1, content_2, content_3, content_4]
attr_groups = [attr_0, attr_1, attr_2, attr_3, attr_4]

fig = plt.figure(figsize=(22.48, 8.30), dpi=100)

ax1 = fig.add_axes([0.0356, 0.100, 0.3968, 0.800])
ax2 = fig.add_axes([0.5298, 0.1108, 0.3955, 0.800])

for ax, groups, xmax in [(ax1, content_groups, 59.47), (ax2, attr_groups, 59.27)]:
    for pts, c in zip(groups, colors):
        xy = np.array(pts)
        ax.scatter(xy[:, 0], xy[:, 1], s=85, color=c, edgecolor='white', linewidth=0.3, zorder=2)
    ax.set_xlim(0, xmax)
    ax.set_ylim(0, 44.27)
    ax.set_xticks([])
    ax.set_yticks([])
    for sp in ax.spines.values():
        sp.set_color('#333333')
        sp.set_linewidth(1.5)

# titles and axis labels
fig.text(0.222, 0.943, 'Content Tensor Embeddings', ha='center', va='baseline',
         fontsize=24, fontweight='bold', family='Liberation Sans')
fig.text(0.7247, 0.943, 'Attribute Tensor Embeddings', ha='center', va='baseline',
         fontsize=24, fontweight='bold', family='Liberation Sans')
fig.text(0.2344, 0.047, 'UMAP feature 1', ha='center', va='center', fontsize=22, family='Liberation Sans')
fig.text(0.731, 0.052, 'UMAP feature 1', ha='center', va='center', fontsize=22, family='Liberation Sans')
fig.text(0.016, 0.482, 'UMAP feature 2', ha='center', va='center', rotation=90, fontsize=29, family='DejaVu Sans')
fig.text(0.509, 0.473, 'UMAP feature 2', ha='center', va='center', rotation=90, fontsize=22.5, family='DejaVu Sans')

# legends
handles = [Line2D([], [], marker='o', linestyle='', color=c, markersize=11.5) for c in colors]
for ax, hx, tx in [(ax1, 0.4408, 0.4657), (ax2, 0.9322, 0.9663)]:
    ax.legend(handles, hospitals, loc='upper left', bbox_to_anchor=(hx, 0.605),
              bbox_transform=fig.transFigure, frameon=False, fontsize=20,
              borderpad=0, borderaxespad=0, handlelength=2.0, handletextpad=0.6,
              labelspacing=0.4)
    fig.text(tx, 0.705, 'Hospital\nindices', ha='center', va='center', fontsize=21,
             family='Liberation Sans', linespacing=1.2)

fig.savefig('out.png', dpi=100)
